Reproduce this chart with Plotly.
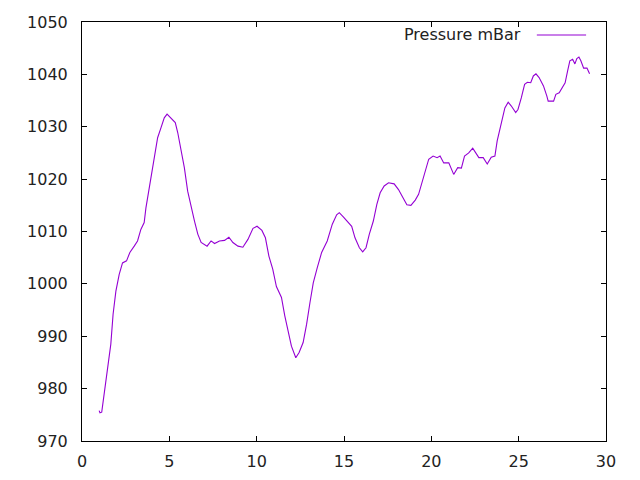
import plotly.graph_objects as go

# values (hours vs. pressure)
hours = [
    0.98, 1.03, 1.13, 1.26, 1.46, 1.65, 1.78, 1.94, 2.13, 2.32, 2.55, 2.74,
    2.99, 3.18, 3.37, 3.56, 3.66, 3.79, 3.91, 4.04, 4.20, 4.33, 4.52, 4.71,
    4.87, 5.10, 5.34, 5.48, 5.67, 5.86, 6.05, 6.25, 6.44, 6.63, 6.82, 7.16,
    7.39, 7.59, 7.87, 8.16, 8.41, 8.64, 8.93, 9.21, 9.50, 9.79, 10.02, 10.30,
    10.50, 10.70, 10.92, 11.13, 11.42, 11.61, 11.80, 11.99, 12.24, 12.43,
    12.66, 12.86, 13.05, 13.24, 13.47, 13.72, 14.04, 14.33, 14.58, 14.73,
    14.96, 15.15, 15.44, 15.63, 15.88, 16.07, 16.26, 16.45, 16.68, 16.88,
    17.07, 17.30, 17.55, 17.87, 18.12, 18.37, 18.60, 18.83, 19.08, 19.27,
    19.47, 19.66, 19.85, 20.10, 20.33, 20.50, 20.71, 21.00, 21.28, 21.51,
    21.72, 21.90, 22.14, 22.37, 22.53, 22.72, 22.97, 23.20, 23.43, 23.64,
    23.77, 23.91, 24.06, 24.21, 24.40, 24.57, 24.83, 24.96, 25.15, 25.34,
    25.50, 25.69, 25.84, 25.99, 26.17, 26.42, 26.61, 26.69, 27.00, 27.13,
    27.32, 27.51, 27.66, 27.80, 27.93, 28.09, 28.22, 28.33, 28.45, 28.56,
    28.72, 28.91, 29.06,
]
pressure = [
    975.8, 975.4, 975.5, 978.9, 983.4, 988.5, 994.2, 998.6, 1001.8, 1004.0,
    1004.4, 1006.0, 1007.2, 1008.2, 1010.4, 1011.7, 1014.5, 1017.1, 1019.6,
    1022.2, 1025.4, 1027.9, 1029.8, 1031.7, 1032.4, 1031.7, 1030.8, 1028.9,
    1025.7, 1022.2, 1017.7, 1014.5, 1012.0, 1009.5, 1007.9, 1007.2, 1008.2,
    1007.7, 1008.2, 1008.3, 1008.9, 1007.9, 1007.2, 1007.0, 1008.5, 1010.6,
    1011.0, 1010.2, 1008.8, 1005.3, 1002.8, 999.5, 997.4, 993.9, 990.7,
    988.1, 985.9, 986.9, 988.8, 992.3, 996.4, 1000.2, 1003.1, 1006.0,
    1008.2, 1011.4, 1013.2, 1013.6, 1012.8, 1012.0, 1011.0, 1008.8, 1006.9,
    1006.1, 1006.9, 1009.5, 1012.0, 1015.2, 1017.4, 1018.7, 1019.3, 1019.1,
    1018.0, 1016.5, 1015.1, 1015.0, 1016.0, 1017.1, 1019.6, 1021.9, 1023.8,
    1024.4, 1024.1, 1024.4, 1023.1, 1023.1, 1020.9, 1022.2, 1022.1, 1024.4,
    1025.0, 1025.9, 1025.0, 1024.1, 1024.1, 1022.9, 1024.2, 1024.4, 1027.3,
    1029.2, 1031.7, 1033.6, 1034.7, 1034.0, 1032.7, 1033.3, 1035.5, 1038.1,
    1038.5, 1038.4, 1039.7, 1040.1, 1039.4, 1037.8, 1035.9, 1034.9, 1034.9,
    1036.2, 1036.5, 1037.5, 1038.4, 1040.6, 1042.6, 1042.9, 1042.0, 1043.0,
    1043.3, 1042.6, 1041.2, 1041.2, 1040.1,
]
x_ticks = [0, 5, 10, 15, 20, 25, 30]
y_ticks = [970, 980, 990, 1000, 1010, 1020, 1030, 1040, 1050]
series_name = "Pressure mBar"

line_color = "#9400d3"
font = dict(family="DejaVu Sans, sans-serif", size=16, color="#222222")

fig = go.Figure()
fig.add_trace(
    go.Scatter(
        x=hours,
        y=pressure,
        mode="lines",
        name=series_name,
        line=dict(color=line_color, width=1.1),
        showlegend=False,
    )
)

axis_style = dict(
    showgrid=False,
    zeroline=False,
    showline=True,
    mirror="allticks",
    linecolor="black",
    linewidth=1,
    ticks="inside",
    ticklen=5,
    tickcolor="black",
    tickfont=font,
    automargin=False,
)
fig.update_xaxes(range=[0, 30], tickvals=x_ticks, ticklabelstandoff=6, **axis_style)
fig.update_yaxes(range=[970, 1050], tickvals=y_ticks, ticklabelstandoff=10, **axis_style)

# gnuplot-style key: text on the left, sample line on the right
fig.add_annotation(
    xref="paper", yref="paper", x=0.842, y=0.969,
    text=series_name, showarrow=False, xanchor="right", yanchor="middle",
    font=font,
)
fig.add_shape(
    type="line", xref="paper", yref="paper",
    x0=0.868, x1=0.962, y0=0.969, y1=0.969,
    line=dict(color=line_color, width=1.1),
)

# the page adds an 8px body margin, so the figure is 8px smaller each way
fig.update_layout(
    width=632,
    height=472,
    margin=dict(l=74, r=34, t=14, b=39),
    paper_bgcolor="white",
    plot_bgcolor="white",
    font=font,
)

fig.write_html("out.html")
